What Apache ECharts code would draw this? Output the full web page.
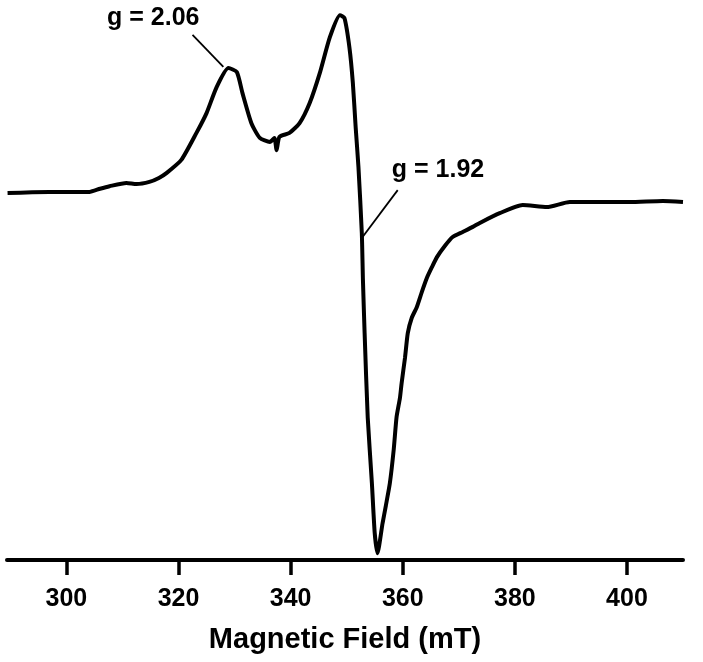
<!DOCTYPE html>
<html>
<head>
<meta charset="utf-8">
<script src="https://cdn.jsdelivr.net/npm/echarts@6/dist/echarts.min.js"></script>
<style>
  html, body { margin: 0; padding: 0; background: #fff; }
  #chart { width: 703px; height: 662px; }
</style>
</head>
<body>
<div id="chart"></div>
<script>
// EPR spectrum, field in mT, intensity in arbitrary units (baseline = 0)
var field = [
  289.5, 293.9, 300.0, 304.1, 306.0, 307.7, 310.7, 312.5, 314.8, 316.5, 317.9, 320.5,
  323.2, 325.0, 326.8, 328.9, 330.4, 331.4, 333.0, 334.5, 336.3, 337.1, 337.5, 338.0,
  339.8, 341.6, 343.4, 345.2, 347.0, 348.8, 349.6, 350.5, 351.1, 351.6, 352.1, 352.7,
  352.9, 353.2, 353.75, 354.5, 355.0, 355.5, 356.4, 357.0, 357.7, 358.4, 358.9, 359.5,
  359.8, 360.4, 360.9, 361.6, 362.5, 363.4, 364.3, 365.2, 366.1, 367.5, 368.9, 370.7,
  372.5, 373.75, 377.3, 381.4, 385.7, 389.8, 394.6, 400.5, 406.4, 410.0
];
var intensity = [
  0.0, 0.2, 0.3, 0.3, 1.2, 1.9, 2.8, 2.5, 3.1, 4.2, 5.6, 9.2,
  16.7, 22.2, 29.4, 34.7, 33.6, 27.8, 19.4, 15.3, 14.2, 15.3, 11.9, 15.6,
  16.7, 19.4, 25.0, 33.3, 43.3, 49.4, 48.6, 40.3, 30.6, 18.3, 7.2, -11.1,
  -24.2, -38.9, -62.2, -80.6, -94.4, -100.0, -91.7, -86.7, -80.6, -71.1, -62.2, -56.9,
  -52.8, -45.8, -38.9, -34.7, -31.7, -27.5, -23.6, -20.6, -17.8, -14.7, -12.2, -10.8,
  -9.4, -8.3, -5.6, -3.3, -3.9, -2.5, -2.5, -2.5, -2.2, -2.5
];
var tickValues = [300, 320, 340, 360, 380, 400];
var xTitle = 'Magnetic Field (mT)';

// annotations: label position, leader line start -> end on curve
var notes = [
  { text: 'g = 2.06', at: [315.5, 48.6], from: [322.5, 43.9], to: [328.0, 35.0] },
  { text: 'g = 1.92', at: [366.3, 6.4], from: [359.1, 0.8], to: [352.7, -12.5] }
];

var data = field.map(function(b, i) { return [b, intensity[i]]; });
var font = 'Liberation Sans, Arial, Helvetica, sans-serif';

var chart = echarts.init(document.getElementById('chart'), null, { renderer: 'canvas' });
chart.setOption({
  animation: false,
  backgroundColor: '#fff',
  grid: { left: 7, right: 20, top: 0, bottom: 102 },
  xAxis: {
    type: 'value',
    min: 289.4,
    max: 410,
    name: xTitle,
    nameLocation: 'middle',
    nameGap: 65,
    nameTextStyle: { color: '#000', fontSize: 29, fontWeight: 'bold', fontFamily: font },
    axisLine: { onZero: false, lineStyle: { color: '#000', width: 4 } },
    axisTick: { customValues: tickValues, length: 15, lineStyle: { color: '#000', width: 3.5 } },
    axisLabel: { customValues: tickValues, margin: 27, color: '#000', fontSize: 25, fontWeight: 'bold', fontFamily: font },
    splitLine: { show: false }
  },
  yAxis: {
    type: 'value',
    min: -101.9,
    max: 53.6,
    show: false
  },
  series: [{
    type: 'line',
    data: data,
    showSymbol: false,
    smooth: 0.2,
    lineStyle: { color: '#000', width: 4 },
    markLine: {
      silent: true,
      symbol: 'none',
      label: { show: false },
      lineStyle: { color: '#000', width: 1.8, type: 'solid' },
      data: notes.map(function(n) { return [{ coord: n.from }, { coord: n.to }]; })
    },
    markPoint: {
      silent: true,
      symbol: 'circle',
      symbolSize: 0,
      label: { show: true, position: 'inside', color: '#000', fontSize: 25, fontWeight: 'bold', fontFamily: font },
      data: notes.map(function(n) { return { coord: n.at, value: n.text, label: { formatter: n.text } }; })
    }
  }]
});
window.addEventListener('resize', function() { chart.resize(); });
</script>
</body>
</html>
